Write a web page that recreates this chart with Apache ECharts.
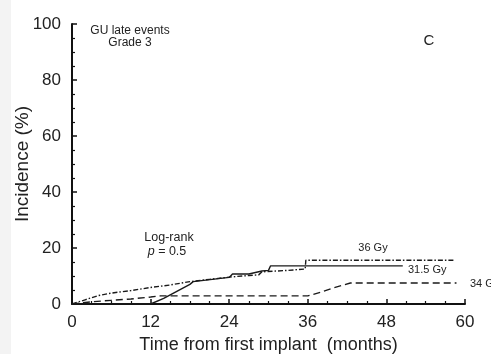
<!DOCTYPE html>
<html><head><meta charset="utf-8">
<script src="https://cdn.jsdelivr.net/npm/echarts@6/dist/echarts.min.js"></script>
<style>html,body{margin:0;padding:0;background:#fff}#c{width:491px;height:354px}</style>
</head><body><div id="c"></div>
<script>
const xTicks = [0, 12, 24, 36, 48, 60];
const yTicks = [0, 20, 40, 60, 80, 100];
const gy31_5 = [[0,0],[12,0],[14,2],[16,4.5],[18,7],[18.5,8],[24,9.5],[24.5,10.7],[27,10.7],[29,11.8],[30,12],[30.3,13.6],[50.5,13.6]];
const gy36 = [[0,0],[2,1.5],[4,3],[6,3.9],[9,4.8],[12,5.9],[15,6.8],[18,8],[21,8.8],[24,9.6],[27,10.2],[28.5,10.4],[29,11.5],[33,12],[35.6,12.5],[35.7,15.6],[58.5,15.6]];
const gy34 = [[0,0],[3,0.8],[6,1.3],[9,1.8],[12,2.5],[13.5,2.9],[36,2.9],[38,4.2],[40,5.8],[42.5,7.5],[58.7,7.5]];
const seriesNames = ['31.5 Gy', '36 Gy', '34 Gy'];

const chart = echarts.init(document.getElementById('c'));
const F = 'Liberation Sans, Arial, sans-serif';
const axisCommon = {
  axisLine: {show: true, lineStyle: {color: '#111', width: 2}},
  axisTick: {show: true, inside: true, length: 5, lineStyle: {color: '#111', width: 1.5}},
  minorTick: {show: true, splitNumber: 4, length: 3, lineStyle: {color: '#111', width: 1.2}},
  splitLine: {show: false},
  minorSplitLine: {show: false},
  axisLabel: {color: '#222', fontSize: 17, fontFamily: F}
};
const lineStyleBase = {color: '#1a1a1a', width: 1.4};
chart.setOption({
  animation: false,
  grid: {left: 72, right: 26, top: 24, bottom: 50, containLabel: false, outerBoundsMode: 'none'},
  xAxis: Object.assign({}, axisCommon, {
    type: 'value', min: 0, max: 60, interval: 12,
    name: 'Time from first implant  (months)', nameLocation: 'middle', nameGap: 32, nameMoveOverlap: false,
    nameTextStyle: {color: '#222', fontSize: 18, fontFamily: F},
    axisLabel: Object.assign({}, axisCommon.axisLabel, {margin: 10, formatter: v => xTicks.includes(v) ? String(v) : ''})
  }),
  yAxis: Object.assign({}, axisCommon, {
    type: 'value', min: 0, max: 100, interval: 20,
    name: 'Incidence (%)', nameLocation: 'middle', nameGap: 40, nameMoveOverlap: false,
    nameTextStyle: {color: '#222', fontSize: 19, fontFamily: F},
    axisLabel: Object.assign({}, axisCommon.axisLabel, {margin: 11, formatter: v => yTicks.includes(v) ? String(v) : ''})
  }),
  series: [
    {name: seriesNames[0], type: 'line', data: gy31_5, showSymbol: false, lineStyle: Object.assign({}, lineStyleBase, {type: 'solid'})},
    {name: seriesNames[1], type: 'line', data: gy36, showSymbol: false, lineStyle: Object.assign({}, lineStyleBase, {type: [5, 2, 1.5, 2]})},
    {name: seriesNames[2], type: 'line', data: gy34, showSymbol: false, lineStyle: Object.assign({}, lineStyleBase, {type: [7, 4]})}
  ],
  graphic: [
    {type: 'rect', left: 0, top: 0, shape: {width: 11, height: 354}, style: {fill: '#f3f3f3'}, silent: true},
    {type: 'text', x: 130, y: 31, style: {text: 'GU late events', font: '12px ' + F, fill: '#222', align: 'center', verticalAlign: 'middle'}},
    {type: 'text', x: 130, y: 43, style: {text: 'Grade 3', font: '12px ' + F, fill: '#222', align: 'center', verticalAlign: 'middle'}},
    {type: 'text', x: 429, y: 41, style: {text: 'C', font: '15px ' + F, fill: '#222', align: 'center', verticalAlign: 'middle'}},
    {type: 'text', x: 169, y: 238, style: {text: 'Log-rank', font: '12.5px ' + F, fill: '#222', align: 'center', verticalAlign: 'middle'}},
    {type: 'text', x: 167, y: 252, style: {text: '{i|p} = 0.5', font: '12.5px ' + F, fill: '#222', align: 'center', verticalAlign: 'middle', rich: {i: {fontStyle: 'italic', fontSize: 12.5, fontFamily: F}}}},
    {type: 'text', x: 373, y: 248, style: {text: seriesNames[1], font: '11px ' + F, fill: '#222', align: 'center', verticalAlign: 'middle'}},
    {type: 'text', x: 408, y: 270, style: {text: seriesNames[0], font: '11px ' + F, fill: '#222', align: 'left', verticalAlign: 'middle'}},
    {type: 'text', x: 470, y: 284, style: {text: seriesNames[2], font: '11px ' + F, fill: '#222', align: 'left', verticalAlign: 'middle'}}
  ]
});
</script></body></html>
